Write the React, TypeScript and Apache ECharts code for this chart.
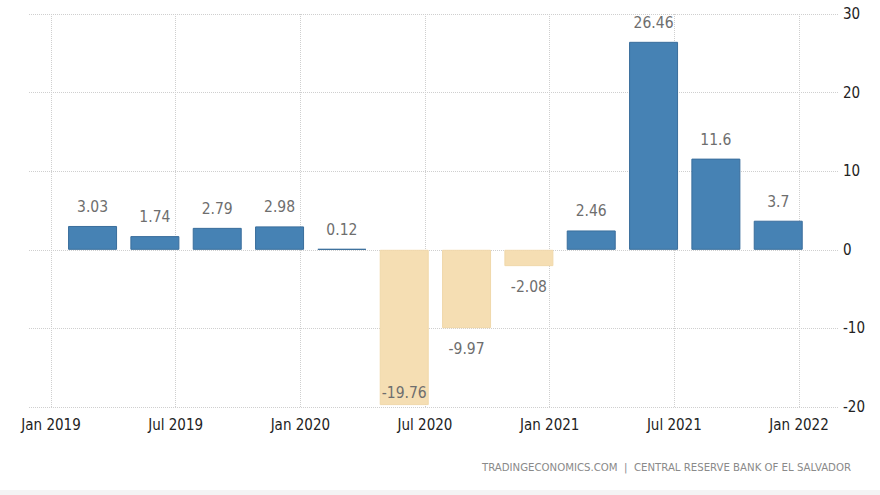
import React, { useEffect, useRef } from "react";
import * as echarts from "echarts";

const quarters = ["2019 Q1", "2019 Q2", "2019 Q3", "2019 Q4", "2020 Q1", "2020 Q2", "2020 Q3", "2020 Q4", "2021 Q1", "2021 Q2", "2021 Q3", "2021 Q4"];
// month offset from Jan 2019 where each quarterly bar is drawn
const barMonths = [2, 5, 8, 11, 14, 17, 20, 23, 26, 29, 32, 35];
const values = [3.03, 1.74, 2.79, 2.98, 0.12, -19.76, -9.97, -2.08, 2.46, 26.46, 11.6, 3.7];
const xTickLabels = ["Jan 2019", "Jul 2019", "Jan 2020", "Jul 2020", "Jan 2021", "Jul 2021", "Jan 2022"];
const yMin = -20;
const yMax = 30;
const yStep = 10;
const sourceText = "TRADINGECONOMICS.COM  |  CENTRAL RESERVE BANK OF EL SALVADOR";

const FONT = "'Liberation Sans Narrow', 'DejaVu Sans Condensed', 'Liberation Sans', sans-serif";

export default function App() {
  const ref = useRef<HTMLDivElement>(null);
  useEffect(() => {
    document.body.style.margin = "0";
    if (!ref.current) return;
    const chart = echarts.init(ref.current, null, { renderer: "svg" });
    const gridLine = { show: true, lineStyle: { color: "#cfcfcf", type: "dotted" as const, width: 1 } };
    const data = values.map((v, i) => {
      const neg = v < 0;
      const overflow = v < yMin * 0.75;
      return {
        value: [barMonths[i], v],
        name: quarters[i],
        itemStyle: neg
          ? { color: "#F5DEB3", borderColor: "#F0D8AA", borderWidth: 1 }
          : { color: "#4682B4", borderColor: "#3A6E9C", borderWidth: 1 },
        label: {
          show: true,
          position: neg ? (overflow ? "insideBottom" : "bottom") : "top",
          distance: neg ? (overflow ? 4 : 13) : 11,
          formatter: String(v),
          color: "#6e6e6e",
          fontSize: 15.5,
          fontFamily: FONT,
        },
      };
    });
    chart.setOption({
      animation: false,
      grid: [
        { left: 51, right: 81, top: 14, bottom: 88 },
        { left: 29, right: 42, top: 14, bottom: 88 },
      ],
      xAxis: [
        {
          type: "value",
          gridIndex: 0,
          min: 0,
          max: 36,
          interval: 6,
          axisLine: { show: false },
          axisTick: { show: false },
          splitLine: gridLine,
          axisLabel: {
            margin: 10,
            color: "#222",
            fontSize: 15,
            fontFamily: FONT,
            formatter: (v: number) => xTickLabels[Math.round(v / 6)] ?? "",
          },
        },
        { type: "value", gridIndex: 1, min: 0, max: 1, show: false },
      ],
      yAxis: [
        { type: "value", gridIndex: 0, min: yMin, max: yMax, show: false },
        {
          type: "value",
          gridIndex: 1,
          position: "right",
          min: yMin,
          max: yMax,
          interval: yStep,
          axisLine: { show: false },
          axisTick: { show: false },
          splitLine: gridLine,
          axisLabel: { margin: 5, color: "#222", fontSize: 15, fontFamily: FONT },
        },
      ],
      series: [
        {
          type: "bar",
          xAxisIndex: 0,
          yAxisIndex: 0,
          barWidth: 49,
          data,
        },
      ],
      graphic: [
        {
          type: "text",
          right: 29,
          top: 462,
          style: { text: sourceText, fill: "#8a8a8a", fontSize: 11.3, fontFamily: FONT },
        },
        {
          type: "rect",
          left: 0,
          top: 490,
          shape: { width: 880, height: 5 },
          style: { fill: "#f4f4f4" },
        },
      ],
    });
    return () => chart.dispose();
  }, []);
  return <div ref={ref} style={{ width: 880, height: 495 }} />;
}
